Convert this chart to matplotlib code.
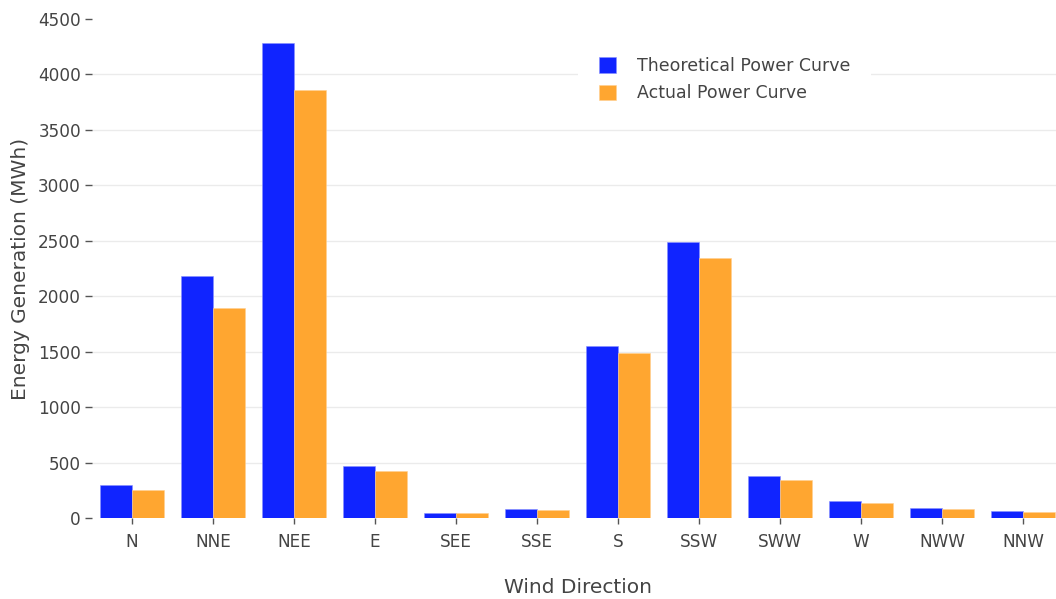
import numpy as np
import matplotlib
matplotlib.use("Agg")
import matplotlib.pyplot as plt

directions = ["N", "NNE", "NEE", "E", "SEE", "SSE", "S", "SSW", "SWW", "W", "NWW", "NNW"]
theoretical = [295, 2182, 4283, 469, 48, 84, 1551, 2489, 375, 150, 90, 65]
actual = [250, 1894, 3859, 424, 42, 75, 1488, 2344, 345, 135, 80, 52]

blue = "#1024FF"
orange = "#FFA630"
text_color = "#444444"

def main():
    plt.rcParams['font.family'] = ['DejaVu Sans']
    W, H = 1056, 599
    fig = plt.figure(figsize=(W / 100, H / 100), dpi=100)

    # plot area in pixels: left 91.5, right 1063.5 (cut by figure), top 19, bottom 518
    ax = fig.add_axes([91.5 / W, (H - 518) / H, 972 / W, 499 / H])

    x = np.arange(len(directions))
    w = 0.4
    ax.bar(x - w / 2, theoretical, w, color=blue, edgecolor="#8890ff", linewidth=0.4,
           label="Theoretical Power Curve", zorder=3)
    ax.bar(x + w / 2, actual, w, color=orange, edgecolor="#ffd090", linewidth=0.4,
           label="Actual Power Curve", zorder=3)

    ax.set_xlim(-0.5, len(directions) - 0.5)
    ax.set_ylim(0, 4500)
    ax.set_xticks(x)
    ax.set_xticklabels(directions)
    ax.set_yticks(np.arange(0, 4501, 500))

    for s in ax.spines.values():
        s.set_visible(False)

    # gridlines (skip 0 and the top edge)
    for v in range(500, 4500, 500):
        ax.axhline(v, color="#EBEBEB", linewidth=1.0, zorder=1)

    ax.tick_params(axis="x", length=4.5, width=1, color="#555555", pad=6,
                   labelsize=12.2, labelcolor=text_color)
    ax.tick_params(axis="y", length=5, width=1, color="#555555", pad=2.5,
                   labelsize=12.2, labelcolor=text_color)

    ax.set_xlabel("Wind Direction", fontsize=14.5, color=text_color)
    ax.set_ylabel("Energy Generation (MWh)", fontsize=14.5, color=text_color)
    ax.xaxis.set_label_coords(0.5, (518 - 578) / 499)
    ax.yaxis.set_label_coords((30 - 91.5) / 972, 0.5)

    leg = ax.legend(loc="upper left", bbox_to_anchor=(578 / W, 1 - 36 / H),
                    bbox_transform=fig.transFigure, fontsize=12.5,
                    frameon=True, fancybox=False, framealpha=1,
                    handlelength=1.0, handleheight=1.0, handletextpad=1.2,
                    labelspacing=0.55, borderpad=1.2, borderaxespad=0)
    leg.get_frame().set_facecolor("white")
    leg.get_frame().set_edgecolor("none")
    for t in leg.get_texts():
        t.set_color(text_color)

    fig.savefig("out.png", dpi=100)

if __name__ == "__main__":
    main()
